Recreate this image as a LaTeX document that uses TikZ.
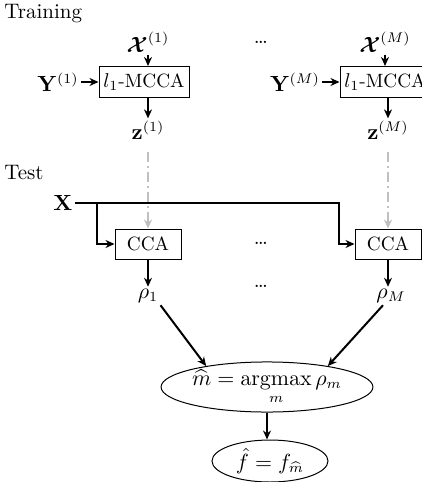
\documentclass[tikz,border=0pt]{standalone}
\usepackage{amsmath}
\usepackage{bm}
\usetikzlibrary{arrows.meta,shapes.geometric}
\begin{document}
\begin{tikzpicture}[x=0.5pt,y=-0.5pt,
  every node/.style={font=\fontsize{10.5}{12}\selectfont, inner sep=1pt},
  box/.style={draw, line width=0.5pt, minimum height=15.5pt, inner sep=0pt, font=\fontsize{9.6}{11}\selectfont},
  oval/.style={draw, ellipse, line width=0.5pt, inner sep=0pt},
  arr/.style={line width=1pt, -{Stealth[length=4.5pt,width=4pt]}},
  guide/.style={line width=1pt, draw=black!25, dash pattern=on 5pt off 2pt on 1pt off 2pt, -{Stealth[length=4.5pt,width=4pt]}}]
\useasboundingbox (0,0) rectangle (422,482);
% Training
\node[anchor=west] (train) at (2,14) {Training};
\node (x1) at (148,42) {$\bm{\mathcal{X}}^{(1)}$};
\node[box, minimum width=45pt] (mcca1) at (144,82) {$l_1$-MCCA};
\node (y1) at (58,82) {$\mathbf{Y}^{(1)}$};
\node (z1) at (148,130) {$\mathbf{z}^{(1)}$};
\node (dt) at (261,42) {\ldots};
\node (xM) at (385,42) {$\bm{\mathcal{X}}^{(M)}$};
\node[box, minimum width=45pt] (mcca2) at (385,82) {$l_1$-MCCA};
\node (yM) at (295,82) {$\mathbf{Y}^{(M)}$};
\node (zM) at (388,130) {$\mathbf{z}^{(M)}$};
\draw[arr] (x1.south) -- (x1.south |- mcca1.north);
\draw[arr] (y1.east) -- (mcca1.west);
\draw[arr] (mcca1.south -| z1) -- (z1.north);
\draw[arr] (xM.south) -- (xM.south |- mcca2.north);
\draw[arr] (yM.east) -- (mcca2.west);
\draw[arr] (mcca2.south -| zM) -- (zM.north);
% Test
\node[anchor=west] (test) at (2,173) {Test};
\node (X) at (63,203) {$\mathbf{X}$};
\node[box, minimum width=33pt, minimum height=15pt] (cca1) at (148,244) {CCA};
\node[box, minimum width=33pt, minimum height=15pt] (cca2) at (388,244) {CCA};
\node (dm) at (261,243) {\ldots};
\node (db) at (261,286) {\ldots};
\node (r1) at (148,296) {$\rho_1$};
\node (rM) at (391,296) {$\rho_M$};
\coordinate (jn) at (97,203);
\coordinate (cr) at (339,203);
\draw[guide] (z1.south) ++(0,10) -- (z1 |- cca1.north);
\draw[guide] (zM.south) ++(0,10) -- (zM |- cca2.north);
\draw[arr] (X.east) -- (cr) |- (cca2.west);
\draw[arr] (jn) |- (cca1.west);
\draw[arr] (cca1.south) -- (r1.north);
\draw[arr] (cca2.south) -- (cca2.south |- rM.north);
\node[oval, minimum width=103pt, minimum height=23pt] (am) at (267,387)
  {$\displaystyle \widehat{m} = \operatorname*{argmax}_{m} \rho_m$};
\node[oval, minimum width=58pt, minimum height=21pt] (fh) at (270,461)
  {$\hat{f} = f_{\widehat{m}}$};
\draw[arr] (r1.south east) -- (am.161);
\draw[arr] (rM.south) ++(-8,0) -- (am.19);
\draw[arr] (am.south) -- (am.south |- fh.north);
\end{tikzpicture}
\end{document}
